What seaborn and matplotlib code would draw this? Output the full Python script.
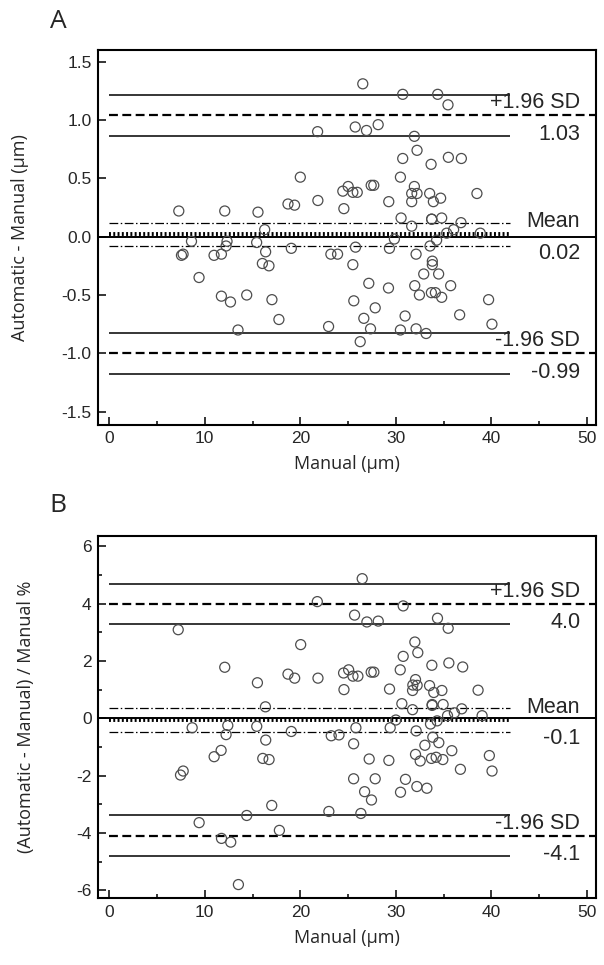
import matplotlib

matplotlib.use('Agg')

import matplotlib.pyplot as plt
import numpy as np
import pandas as pd
import seaborn as sns
from matplotlib.ticker import FormatStrFormatter, MultipleLocator

# Panel A: difference (um) against manual value
a_manual = [21.81, 20.00, 18.71, 19.40, 21.84, 7.28, 12.09, 15.57,
            26.54, 30.72, 34.38, 35.46, 25.75, 26.93, 28.15, 31.94, 32.22, 30.72,
            33.69, 35.50, 36.86, 30.48, 25.01, 24.45, 25.50, 25.96, 27.42, 27.69,
            31.94, 31.66, 32.22, 33.54, 34.69, 33.93, 38.49, 29.26, 31.66, 24.56,
            16.27, 8.61, 12.33, 12.23, 15.43, 7.56, 7.73, 10.97, 11.74, 16.37,
            19.06, 23.20, 23.90, 16.03, 16.72, 9.40, 11.74, 12.69, 14.39, 17.03,
            17.76, 13.48, 22.96,
            30.55, 31.66, 33.75, 33.75, 34.80, 36.82, 36.05, 35.32, 38.84, 34.27,
            29.85, 33.58, 29.33, 25.78, 32.12, 25.50, 33.82, 33.82, 32.92, 34.48,
            27.17, 29.23, 31.98, 35.74, 32.47, 33.72, 34.14, 34.80, 39.71, 25.60,
            27.84, 26.65, 30.97, 36.68, 40.06, 27.35, 30.48, 32.12, 33.17, 26.27]
a_diff = [0.90, 0.51, 0.28, 0.27, 0.31, 0.22, 0.22, 0.21,
          1.31, 1.22, 1.22, 1.13, 0.94, 0.91, 0.96, 0.86, 0.74, 0.67,
          0.62, 0.68, 0.67, 0.51, 0.43, 0.39, 0.38, 0.38, 0.44, 0.44,
          0.43, 0.37, 0.37, 0.37, 0.33, 0.30, 0.37, 0.30, 0.30, 0.24,
          0.06, -0.04, -0.04, -0.08, -0.05, -0.16, -0.15, -0.16, -0.15, -0.13,
          -0.10, -0.15, -0.15, -0.23, -0.25, -0.35, -0.51, -0.56, -0.50, -0.54,
          -0.71, -0.80, -0.77,
          0.16, 0.09, 0.15, 0.15, 0.16, 0.12, 0.06, 0.03, 0.03, -0.03,
          -0.02, -0.08, -0.10, -0.09, -0.15, -0.24, -0.21, -0.24, -0.32, -0.32,
          -0.40, -0.44, -0.42, -0.42, -0.50, -0.48, -0.48, -0.52, -0.54, -0.55,
          -0.61, -0.70, -0.68, -0.67, -0.75, -0.79, -0.80, -0.79, -0.83, -0.90]

# Panel B: difference in percent of manual value
b_manual = [7.22, 12.09, 15.51, 16.35, 18.71, 19.41, 20.04, 21.78, 21.85, 24.53,
            25.06, 24.57, 25.51, 26.03, 25.68, 26.48, 26.97, 28.16, 27.42, 27.70,
            29.34, 30.46, 30.77, 30.77, 30.63, 31.75, 31.75, 31.78, 32.06, 32.23,
            31.99, 32.30, 33.77, 33.53, 33.97, 33.80, 33.80, 34.82, 34.95, 34.36,
            35.48, 35.55, 37.00, 36.90, 35.41, 36.13, 38.61, 39.03,
            7.46, 7.74, 8.68, 9.41, 10.98, 11.71, 11.75, 12.23, 12.41, 12.72,
            13.52, 14.39, 15.44, 16.07, 16.38, 16.73, 17.01, 17.81, 19.06, 22.99,
            23.24, 24.05, 25.58, 25.58, 25.82, 26.34, 26.73, 27.21, 27.45, 27.84,
            29.27, 29.41, 30.00, 30.49, 31.01, 32.06, 32.13, 32.20, 32.55, 33.04,
            33.25, 33.63, 33.87, 33.73, 34.22, 34.32, 34.50, 34.92, 35.86, 36.76,
            39.79, 40.07]
b_pct = [3.09, 1.78, 1.24, 0.40, 1.54, 1.40, 2.57, 4.07, 1.40, 1.58,
         1.69, 1.00, 1.47, 1.47, 3.60, 4.87, 3.36, 3.39, 1.61, 1.61,
         1.02, 1.69, 2.16, 3.92, 0.51, 0.30, 0.97, 1.16, 1.35, 1.15,
         2.66, 2.29, 1.85, 1.14, 0.90, 0.48, 0.45, 0.97, 0.48, 3.49,
         3.14, 1.93, 1.79, 0.33, 0.09, 0.19, 0.98, 0.09,
         -1.98, -1.84, -0.33, -3.64, -1.34, -1.12, -4.19, -0.57, -0.25, -4.32,
         -5.80, -3.39, -0.28, -1.40, -0.76, -1.44, -3.04, -3.91, -0.46, -3.25,
         -0.61, -0.58, -0.89, -2.11, -0.33, -3.32, -2.56, -1.42, -2.85, -2.11,
         -1.47, -0.33, -0.06, -2.58, -2.13, -1.26, -0.44, -2.38, -1.49, -0.94,
         -2.44, -0.20, -0.66, -1.40, -1.36, -0.09, -0.85, -1.44, -1.13, -1.78,
         -1.30, -1.84]

# Bland-Altman statistics: bias, its CI, limits of agreement and their CIs
a_mean, a_mean_ci = 0.02, (-0.08, 0.12)
a_upper, a_upper_ci = 1.04, (0.86, 1.21)
a_lower, a_lower_ci = -1.00, (-1.18, -0.83)
a_texts = ['+1.96 SD', '1.03', 'Mean', '0.02', '-1.96 SD', '-0.99']

b_mean, b_mean_ci = -0.06, (-0.47, 0.35)
b_upper, b_upper_ci = 4.00, (3.30, 4.69)
b_lower, b_lower_ci = -4.10, (-4.79, -3.38)
b_texts = ['+1.96 SD', '4.0', 'Mean', '-0.1', '-1.96 SD', '-4.1']

X_LIM = (-1.13, 50.95)
CI_END = 42.0
TEXT_X = 49.3

sns.set_style('ticks')
plt.rcParams['font.family'] = ['Liberation Sans', 'DejaVu Sans']
plt.rcParams['axes.unicode_minus'] = False

LABEL_FONT = ['Open Sans', 'DejaVu Sans']


def draw_panel(ax, x, y, stats, texts, ylim, ystep, yminor, yfmt, ylabel, ylab_x):
    mean, mean_ci, upper, upper_ci, lower, lower_ci = stats
    df = pd.DataFrame({'manual': x, 'value': y})
    ax.set_xlim(*X_LIM)
    ax.set_ylim(*ylim)
    frac0 = (0 - X_LIM[0]) / (X_LIM[1] - X_LIM[0])

    sns.scatterplot(data=df, x='manual', y='value', ax=ax, marker='o', s=52,
                    facecolors='none', edgecolor='#4d4d4d', linewidth=0.9,
                    legend=False, zorder=4)

    ax.axhline(0, color='black', lw=1.4, zorder=2)
    ax.hlines(mean, 0, CI_END, color='black', lw=2.8, linestyles=(0, (0.5, 0.6)), zorder=3)
    ax.hlines(list(mean_ci), 0, CI_END, color='black', lw=0.9,
              linestyles=(0, (7, 2, 1.2, 2)), zorder=3)
    for lim, ci in ((upper, upper_ci), (lower, lower_ci)):
        ax.axhline(lim, xmin=frac0, color='black', lw=1.6, ls=(0, (4, 2)), zorder=3)
        ax.hlines(list(ci), 0, CI_END, color='black', lw=1.1, zorder=3)

    for line, (name, val) in zip((upper, mean, lower),
                                 zip(texts[0::2], texts[1::2])):
        ax.annotate(name, xy=(TEXT_X, line), xytext=(0, 5), textcoords='offset points',
                    ha='right', va='baseline', fontsize=15.5)
        ax.annotate(val, xy=(TEXT_X, line), xytext=(0, -6), textcoords='offset points',
                    ha='right', va='top', fontsize=15.5)

    ax.xaxis.set_major_locator(MultipleLocator(10))
    ax.xaxis.set_minor_locator(MultipleLocator(5))
    ax.yaxis.set_major_locator(MultipleLocator(ystep))
    if yminor:
        ax.yaxis.set_minor_locator(MultipleLocator(yminor))
    ax.yaxis.set_major_formatter(FormatStrFormatter(yfmt))
    ax.tick_params(which='both', direction='in', top=False, right=False,
                   width=1.3, labelsize=12.5, pad=5)
    ax.tick_params(which='major', length=5.5)
    ax.tick_params(which='minor', length=3)
    for sp in ax.spines.values():
        sp.set_linewidth(1.5)
        sp.set_color('black')
    ax.set_xlabel('Manual (μm)', fontsize=13, family=LABEL_FONT, labelpad=6)
    ax.set_ylabel(ylabel, fontsize=13, family=LABEL_FONT)
    ax.yaxis.set_label_coords(ylab_x, 0.5)


fig = plt.figure(figsize=(6.04, 9.65), dpi=100)
ax_a = fig.add_axes([0.163, 0.5601, 0.8237, 0.3881])
ax_b = fig.add_axes([0.163, 0.0691, 0.8237, 0.3755])

draw_panel(ax_a, a_manual, a_diff,
           (a_mean, a_mean_ci, a_upper, a_upper_ci, a_lower, a_lower_ci),
           a_texts, (-1.61, 1.6), 0.5, None, '%.1f', 'Automatic - Manual (μm)', -0.14)
draw_panel(ax_b, b_manual, b_pct,
           (b_mean, b_mean_ci, b_upper, b_upper_ci, b_lower, b_lower_ci),
           b_texts, (-6.28, 6.36), 2, 1, '%d', '(Automatic - Manual) / Manual %', -0.127)

fig.text(0.082, 0.978, 'A', fontsize=19, family=LABEL_FONT, va='center')
fig.text(0.082, 0.476, 'B', fontsize=19, family=LABEL_FONT, va='center')

fig.savefig('out.png', dpi=100)
